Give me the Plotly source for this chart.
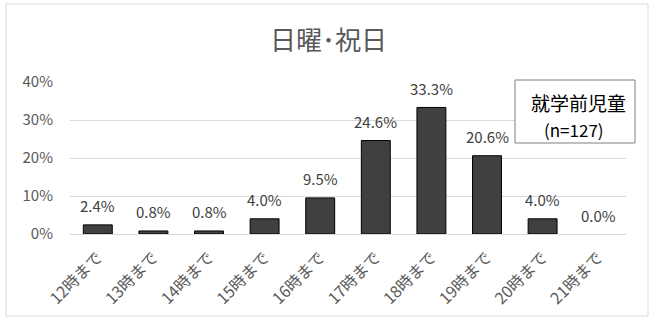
import plotly.graph_objects as go

categories = ["12時まで", "13時まで", "14時まで", "15時まで", "16時まで",
              "17時まで", "18時まで", "19時まで", "20時まで", "21時まで"]
values = [2.4, 0.8, 0.8, 4.0, 9.5, 24.6, 33.3, 20.6, 4.0, 0.0]
y_ticks = [0, 10, 20, 30, 40]
y_tick_labels = ["0%", "10%", "20%", "30%", "40%"]
title_text = "日曜･祝日"
box_lines = ["就学前児童", "(n=127)"]

FONT = "Noto Sans CJK JP"

L, R, T, B = 70, 30, 82, 87
W, H = 656, 321
PW = W - L - R
PH = H - T - B

def px(x):
    return (x - L) / PW

def py(y):
    return 1 - (y - T) / PH

fig = go.Figure()
fig.add_trace(go.Bar(
    x=categories, y=values,
    marker=dict(color="#404040",
                line=dict(color="#000000",
                          width=[1 if v > 0 else 0 for v in values])),
    width=0.52,
    hoverinfo="skip",
))

for c, v in zip(categories, values):
    fig.add_annotation(x=c, y=v, text=f"{v:.1f}%", showarrow=False,
                       yanchor="middle", yshift=19,
                       font=dict(family=FONT, size=15, color="#404040"))

fig.add_annotation(xref="paper", yref="paper", x=px(328), y=py(38),
                   xanchor="center", yanchor="middle", text=title_text,
                   showarrow=False,
                   font=dict(family=FONT, size=26, color="#595959"))

fig.update_layout(
    width=W, height=H,
    margin=dict(l=L, r=R, t=T, b=B),
    paper_bgcolor="white", plot_bgcolor="white",
    showlegend=False,
    xaxis=dict(tickangle=-45, tickfont=dict(family=FONT, size=16, color="#595959"),
               showgrid=False, showline=False, ticks="", fixedrange=True,
               ticklabelstandoff=10, automargin=False),
    yaxis=dict(range=[0, 40], tickvals=y_ticks, ticktext=y_tick_labels,
               tickfont=dict(family=FONT, size=15, color="#595959"),
               gridcolor="#d9d9d9", gridwidth=1, zeroline=True,
               zerolinecolor="#d9d9d9", zerolinewidth=1, showline=False,
               ticks="", ticklabelstandoff=16, fixedrange=True, automargin=False),
)

# outer chart border
fig.add_shape(type="rect", xref="paper", yref="paper",
              x0=px(6), x1=px(648), y0=py(316), y1=py(4),
              line=dict(color="#d9d9d9", width=1), fillcolor="rgba(0,0,0,0)",
              layer="below")

# text box
fig.add_shape(type="rect", xref="paper", yref="paper",
              x0=px(515), x1=px(635), y0=py(143), y1=py(80),
              line=dict(color="#7f7f7f", width=1), fillcolor="white")
fig.add_annotation(xref="paper", yref="paper", x=px(578), y=py(102),
                   text=box_lines[0], showarrow=False,
                   xanchor="center", yanchor="middle",
                   font=dict(family=FONT, size=19, color="#000000"))
fig.add_annotation(xref="paper", yref="paper", x=px(574), y=py(129),
                   text=box_lines[1], showarrow=False,
                   xanchor="center", yanchor="middle",
                   font=dict(family=FONT, size=17, color="#000000"))

fig.write_html("out.html", config={"displayModeBar": False},
               post_script=("document.documentElement.style.overflow='hidden';"
                            "document.body.style.overflow='hidden';"
                            "document.body.style.margin='0';"
                            "document.body.style.padding='0';"))
